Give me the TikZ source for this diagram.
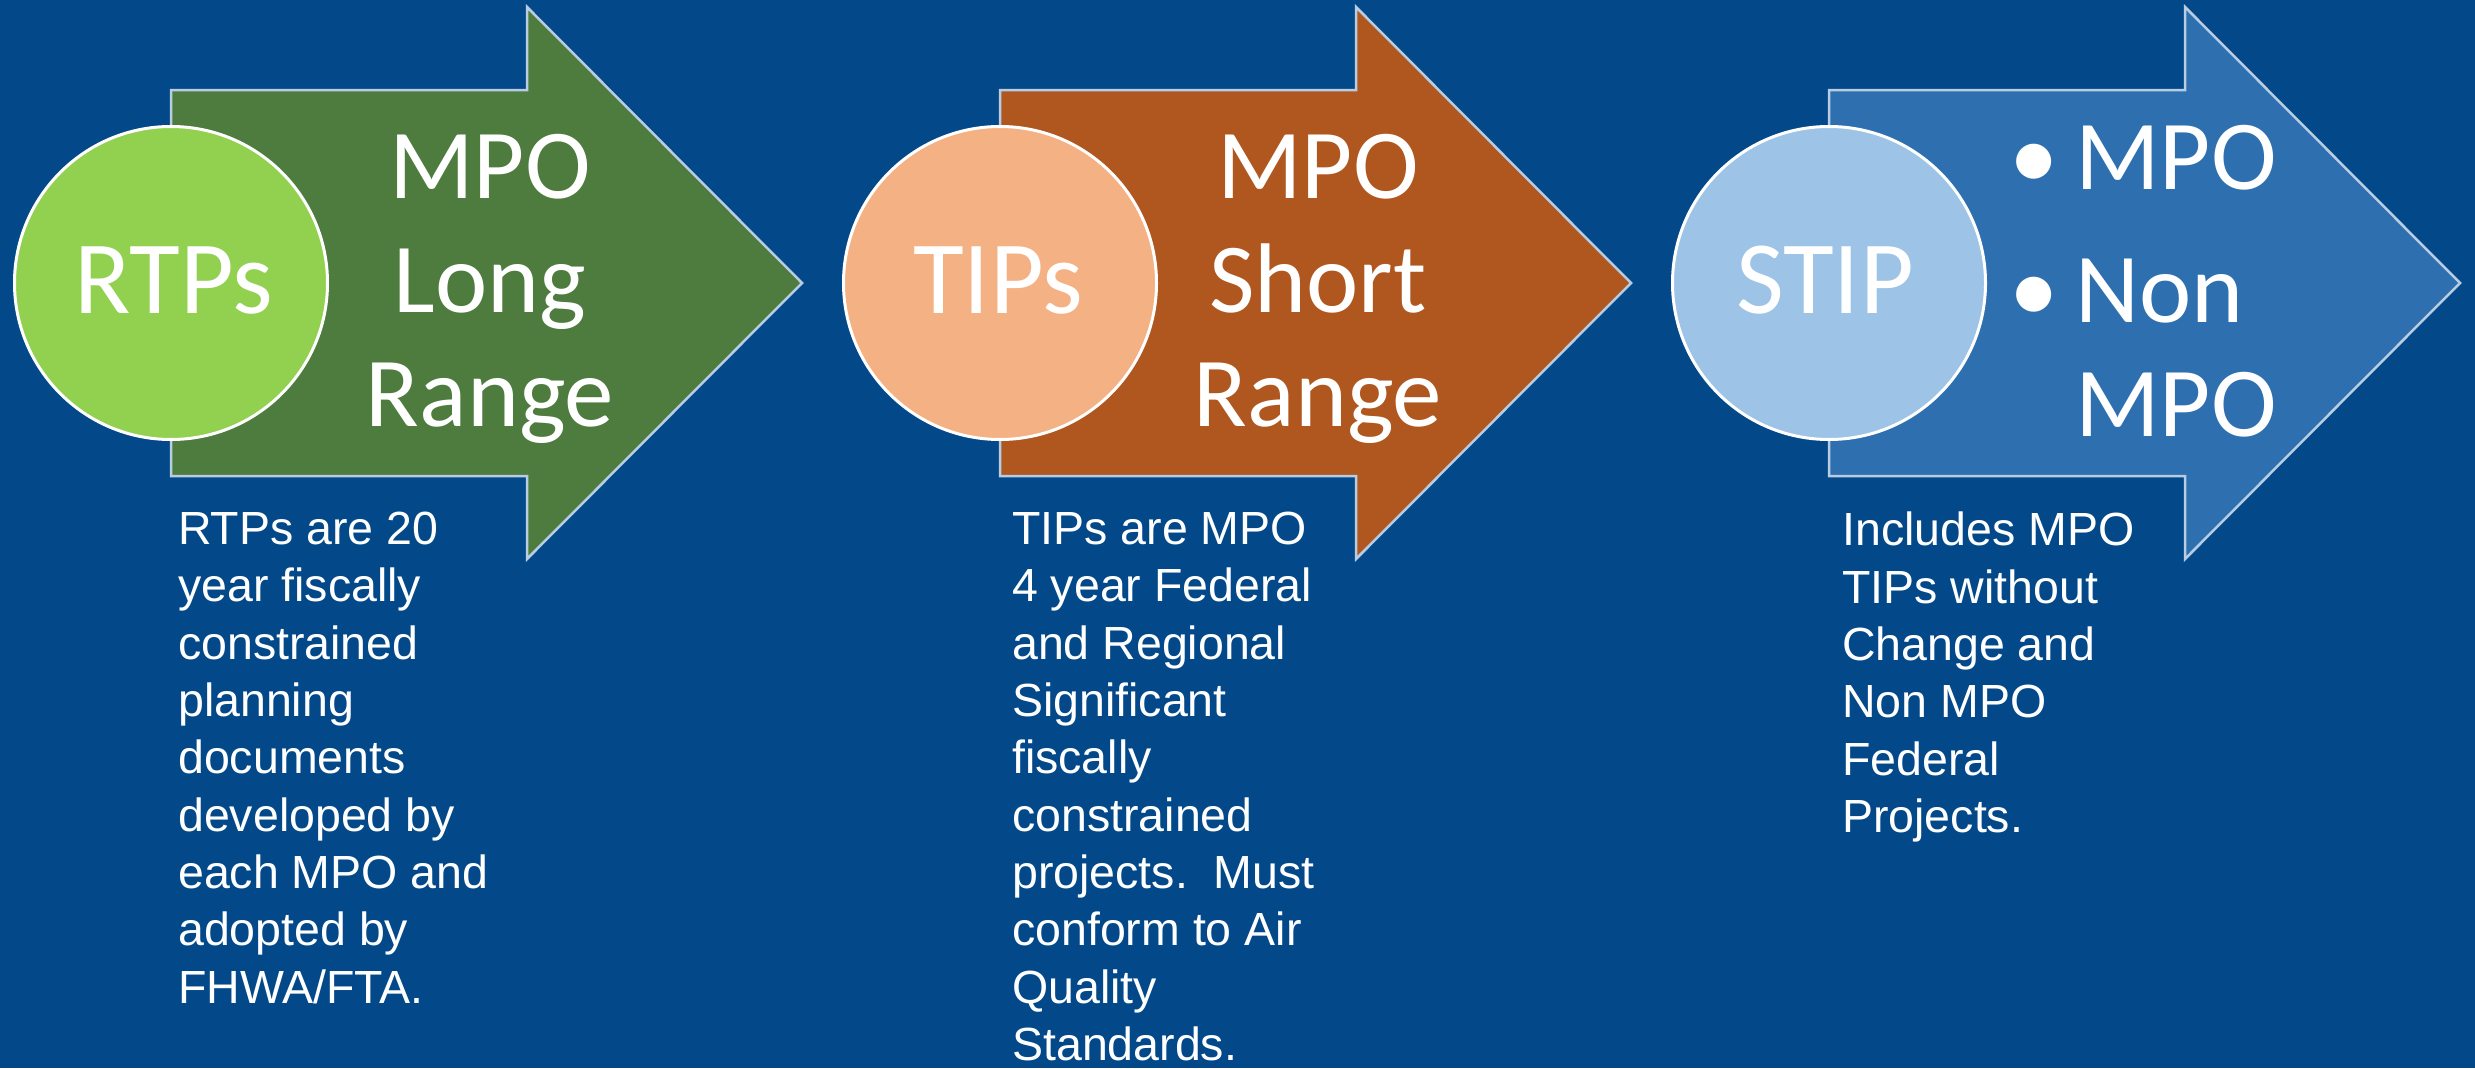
\documentclass[tikz,border=0pt]{standalone}
\usepackage{fontspec}
\setmainfont{Liberation Sans}
\newfontfamily\carlitofont{Carlito}
\definecolor{bgc}{HTML}{03498A}
\definecolor{edgec}{HTML}{B8CCE2}
\definecolor{greenA}{HTML}{4E7B3E}
\definecolor{greenC}{HTML}{92D050}
\definecolor{orangeA}{HTML}{B0571F}
\definecolor{orangeC}{HTML}{F4B183}
\definecolor{blueA}{HTML}{2E6FAF}
\definecolor{blueC}{HTML}{9DC3E6}
\begin{document}
\begin{tikzpicture}[x=1pt,y=-1pt,
  arrowshape/.style={draw=edgec, line width=2.5pt, line join=miter},
  disc/.style={circle, draw=white, line width=3pt, minimum size=313pt, inner sep=0pt},
  big/.style={font=\carlitofont\fontsize{99}{113}\selectfont, text=white, inner sep=0pt, anchor=base},
  disctext/.style={font=\carlitofont\fontsize{104}{113}\selectfont, text=white, inner sep=0pt, anchor=base},
  para/.style={font=\fontsize{46.5}{57.3}\selectfont, text=white, inner sep=0pt, align=left, anchor=north west}]
\useasboundingbox (0,0) rectangle (2475,1068);
\fill[bgc] (0,0) rectangle (2475,1068);

% arrows
\draw[arrowshape, fill=greenA] (171,90) -- (527,90) -- (527,7) -- (802,283) -- (527,559) -- (527,476) -- (171,476) -- cycle;
\draw[arrowshape, fill=orangeA] (1000,90) -- (1356,90) -- (1356,7) -- (1631,283) -- (1356,559) -- (1356,476) -- (1000,476) -- cycle;
\draw[arrowshape, fill=blueA] (1829,90) -- (2185,90) -- (2185,7) -- (2460,283) -- (2185,559) -- (2185,476) -- (1829,476) -- cycle;

% circles
\node[disc, fill=greenC] (c1) at (171,283) {};
\node[disc, fill=orangeC] (c2) at (1000,283) {};
\node[disc, fill=blueC] (c3) at (1829,283) {};

\node[disctext] (c1t) at (173.5,313) {RTPs};
\node[disctext] (c2t) at (998,313) {TIPs};
\node[disctext] (c3t) at (1825,313) {STIP};

% arrow labels
\node[big] (a1l1) at (490,198) {MPO};
\node[big] (a1l2) at (490,312) {Long};
\node[big] (a1l3) at (490,426) {Range};

\node[big] (a2l1) at (1318,198) {MPO};
\node[big] (a2l2) at (1318,312) {Short};
\node[big] (a2l3) at (1318,426) {Range};

\node[big] (b1) at (2034,189) {•};
\node[big, anchor=base west] (a3l1) at (2075,189) {MPO};
\node[big] (b2) at (2034,322) {•};
\node[big, anchor=base west] (a3l2) at (2075,322) {Non};
\node[big, anchor=base west] (a3l3) at (2075,436) {MPO};

% descriptions
\node[para] (p1) at (178,512) {RTPs are 20\\year fiscally\\constrained\\planning\\documents\\developed by\\each MPO and\\adopted by\\FHWA/FTA.};
\node[para] (p2) at (1012,512) {TIPs are MPO\\4 year Federal\\and Regional\\Significant\\fiscally\\constrained\\projects.\ \ Must\\conform to Air\\Quality\\Standards.};
\node[para] (p3) at (1842,512) {Includes MPO\\TIPs without\\Change and\\Non MPO\\Federal\\Projects.};
\end{tikzpicture}
\end{document}
